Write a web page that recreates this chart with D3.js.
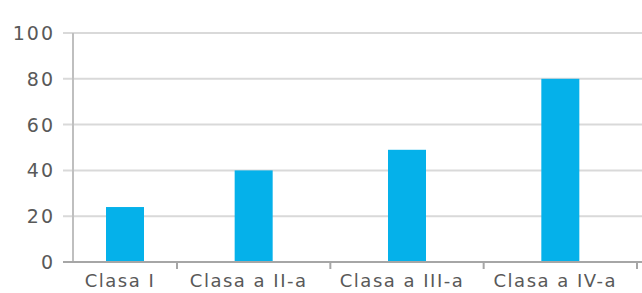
<!DOCTYPE html>
<html>
<head>
<meta charset="utf-8">
<script src="https://cdn.jsdelivr.net/npm/d3@7"></script>
<style>
  body { margin: 0; background: #fff; }
  text { font-family: "DejaVu Sans", sans-serif; fill: #595959; }
</style>
</head>
<body>
<svg id="chart"></svg>
<script>
const categories = ["Clasa I", "Clasa a II-a", "Clasa a III-a", "Clasa a IV-a"];
const values = [24, 40, 49, 80];
const yTicks = [0, 20, 40, 60, 80, 100];

const width = 642;
const height = 293;
const plotLeft = 73;
const plotTop = 33;
const plotBottom = 262;

const svg = d3.select("#chart").attr("width", width).attr("height", height);

// the first category slot is narrower in the original picture
const x = d3.scaleLinear().domain([0, 1, 4]).range([plotLeft, 177, 637]);
const y = d3.scaleLinear().domain([0, 100]).range([plotBottom, plotTop]);

// gridlines + y ticks
svg.append("g")
  .selectAll("line")
  .data(yTicks)
  .join("line")
  .attr("x1", plotLeft - 10)
  .attr("x2", width)
  .attr("y1", d => y(d))
  .attr("y2", d => y(d))
  .attr("stroke", "#d9d9d9")
  .attr("stroke-width", 2);

svg.append("g")
  .selectAll("text")
  .data(yTicks)
  .join("text")
  .attr("x", 55)
  .attr("y", d => y(d) + 7)
  .attr("text-anchor", "end")
  .attr("font-size", 19)
  .attr("letter-spacing", 2)
  .text(d => d);

// y axis line
svg.append("line")
  .attr("x1", plotLeft).attr("x2", plotLeft)
  .attr("y1", plotTop).attr("y2", plotBottom)
  .attr("stroke", "#bfbfbf").attr("stroke-width", 2);

// bars
svg.append("g")
  .selectAll("rect")
  .data(values)
  .join("rect")
  .attr("x", (d, i) => x(i + 0.5) - 19)
  .attr("width", 38)
  .attr("y", d => y(d))
  .attr("height", d => plotBottom - y(d))
  .attr("fill", "#05b1ea");

// x axis line and category ticks
svg.append("line")
  .attr("x1", plotLeft - 10).attr("x2", width)
  .attr("y1", plotBottom).attr("y2", plotBottom)
  .attr("stroke", "#a6a6a6").attr("stroke-width", 2);

svg.append("g")
  .selectAll("line")
  .data([1, 2, 3, 4])
  .join("line")
  .attr("x1", d => x(d)).attr("x2", d => x(d))
  .attr("y1", plotBottom).attr("y2", plotBottom + 7)
  .attr("stroke", "#a6a6a6").attr("stroke-width", 2);

svg.append("g")
  .selectAll("text")
  .data(categories)
  .join("text")
  .attr("x", (d, i) => x(i + 0.5) - 5)
  .attr("y", 287)
  .attr("text-anchor", "middle")
  .attr("font-size", 18)
  .attr("letter-spacing", 1.5)
  .text(d => d);
</script>
</body>
</html>
